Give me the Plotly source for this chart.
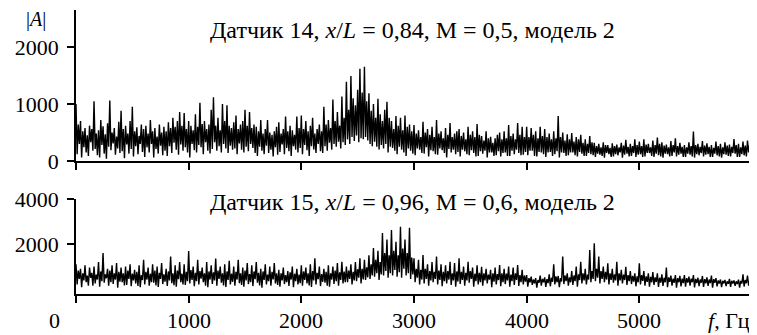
import plotly.graph_objects as go

# frequency bins, Hz
freq = list(range(0, 6000, 10))

# |A| for sensor 14 (x/L = 0.84, M = 0.5)
amp14 = [
    1000, 120, 640, 300, 700, 60, 520, 240, 580, 150, 450, 90, 620, 330, 560, 180, 1050, 210, 480, 100,
    540, 60, 720, 280, 610, 130, 470, 40, 660, 250, 1060, 190, 500, 310, 580, 110, 430, 220, 690, 140,
    880, 170, 560, 50, 620, 290, 480, 130, 700, 210, 950, 80, 520, 260, 590, 120, 440, 300, 640, 160,
    560, 70, 620, 240, 480, 150, 720, 300, 520, 60, 580, 210, 430, 130, 640, 270, 500, 100, 600, 180,
    520, 90, 680, 260, 580, 140, 760, 320, 600, 200, 700, 110, 860, 290, 620, 180, 840, 240, 560, 150,
    700, 60, 620, 300, 540, 190, 820, 150, 600, 280, 1020, 240, 650, 120, 700, 330, 560, 180, 640, 130,
    900, 210, 1120, 330, 620, 180, 760, 260, 540, 150, 1000, 300, 700, 220, 980, 140, 620, 270, 580, 200,
    680, 220, 800, 120, 560, 310, 640, 200, 700, 150, 900, 250, 620, 170, 860, 300, 580, 230, 640, 140,
    600, 90, 520, 250, 720, 180, 480, 120, 560, 270, 720, 140, 500, 200, 460, 80, 520, 240, 600, 110,
    680, 160, 480, 290, 560, 120, 780, 230, 520, 170, 620, 90, 540, 260, 460, 200, 780, 150, 580, 230,
    800, 120, 560, 280, 700, 190, 520, 90, 620, 260, 760, 200, 480, 140, 560, 300, 640, 170, 520, 140,
    950, 260, 640, 180, 720, 320, 580, 200, 1080, 300, 700, 250, 860, 340, 620, 220, 1130, 330, 760, 280,
    1390, 380, 900, 300, 1490, 420, 1100, 350, 980, 450, 1250, 330, 1620, 400, 1200, 380, 1655, 420, 1050, 360,
    1190, 300, 880, 260, 1000, 340, 760, 250, 1090, 200, 820, 280, 700, 220, 900, 300, 1040, 150, 760, 250,
    700, 230, 560, 180, 790, 120, 620, 250, 760, 200, 540, 150, 800, 90, 600, 220, 640, 180, 520, 130,
    630, 100, 480, 220, 540, 200, 420, 140, 690, 130, 500, 240, 560, 80, 460, 190, 600, 170, 420, 120,
    720, 110, 480, 220, 520, 190, 400, 140, 580, 60, 460, 210, 665, 150, 420, 200, 480, 120, 520, 160,
    560, 80, 440, 200, 500, 170, 380, 120, 600, 100, 460, 190, 520, 140, 420, 80, 650, 90, 460, 170,
    440, 130, 360, 180, 520, 60, 400, 150, 425, 150, 320, 90, 400, 100, 460, 170, 500, 80, 380, 140,
    520, 150, 400, 90, 630, 90, 440, 180, 480, 120, 380, 200, 665, 140, 460, 100, 600, 110, 420, 160,
    600, 100, 420, 180, 580, 180, 460, 90, 520, 80, 400, 160, 600, 150, 440, 120, 560, 70, 420, 150,
    480, 160, 380, 90, 520, 120, 400, 170, 790, 60, 420, 150, 500, 140, 360, 90, 470, 100, 380, 150,
    490, 150, 340, 100, 420, 80, 380, 160, 460, 130, 320, 90, 380, 90, 300, 140, 440, 120, 330, 100,
    320, 70, 260, 130, 300, 110, 240, 90, 330, 60, 280, 140, 280, 120, 230, 70, 310, 80, 260, 120,
    290, 100, 240, 150, 320, 60, 270, 110, 370, 130, 250, 80, 300, 90, 260, 140, 380, 70, 280, 110,
    340, 120, 260, 70, 380, 80, 290, 140, 300, 140, 240, 90, 360, 70, 280, 130, 410, 100, 300, 80,
    330, 60, 270, 130, 290, 120, 240, 80, 350, 90, 280, 150, 400, 80, 260, 110, 320, 130, 250, 70,
    280, 70, 240, 130, 330, 110, 260, 80, 515, 60, 280, 120, 300, 100, 250, 140, 350, 80, 270, 110,
    310, 120, 250, 70, 280, 70, 230, 130, 340, 100, 260, 80, 300, 60, 240, 120, 330, 110, 270, 90,
    290, 80, 250, 140, 385, 130, 280, 70, 300, 70, 240, 120, 340, 100, 270, 80, 360, 150, 290, 110,
]

# |A| for sensor 15 (x/L = 0.96, M = 0.6)
amp15 = [
    1100, 200, 820, 450, 900, 80, 700, 380, 1050, 300, 600, 150, 950, 500, 720, 150, 1000, 250, 640, 420,
    1200, 100, 780, 350, 1600, 280, 650, 480, 900, 150, 820, 300, 1050, 220, 700, 420, 1150, 60, 760, 330,
    950, 300, 700, 160, 1000, 180, 820, 450, 1100, 120, 680, 380, 850, 250, 760, 140, 1050, 80, 620, 400,
    1300, 200, 760, 420, 950, 150, 680, 300, 1100, 280, 820, 160, 1000, 90, 720, 450, 1150, 220, 650, 330,
    900, 140, 780, 380, 1440, 260, 700, 170, 1050, 100, 820, 440, 1200, 300, 680, 200, 1100, 180, 760, 350,
    1690, 250, 840, 400, 1000, 120, 720, 350, 1300, 200, 800, 460, 950, 300, 700, 150, 1200, 80, 780, 420,
    1050, 220, 740, 380, 1350, 150, 820, 450, 1000, 280, 700, 160, 1100, 90, 780, 400, 1250, 200, 680, 320,
    1000, 150, 760, 420, 1300, 260, 700, 180, 950, 100, 820, 380, 1150, 220, 660, 300, 1050, 130, 780, 440,
    1200, 280, 720, 160, 900, 60, 780, 400, 1100, 200, 640, 350, 1000, 150, 760, 430, 1150, 250, 700, 180,
    850, 100, 700, 380, 950, 220, 620, 300, 800, 140, 740, 420, 1000, 80, 680, 350, 900, 200, 640, 260,
    1050, 150, 780, 400, 950, 250, 700, 160, 1100, 90, 800, 380, 1360, 200, 720, 440, 1000, 130, 660, 320,
    900, 280, 760, 150, 1050, 100, 700, 420, 1000, 220, 820, 350, 1150, 150, 740, 400, 1210, 250, 780, 300,
    1000, 300, 820, 450, 1100, 200, 760, 380, 1200, 350, 880, 500, 1360, 250, 900, 420, 1300, 400, 960, 520,
    1500, 450, 1100, 600, 1820, 550, 1300, 700, 1700, 400, 1200, 650, 2490, 600, 1600, 800, 2200, 500, 1500, 700,
    2620, 600, 1700, 850, 2100, 550, 1500, 750, 2770, 500, 1800, 900, 2200, 600, 1600, 700, 2720, 450, 1400, 650,
    1360, 300, 900, 500, 1300, 200, 850, 420, 1510, 250, 900, 450, 1100, 150, 800, 380, 1200, 300, 760, 450,
    1440, 200, 820, 400, 1100, 120, 760, 350, 1050, 250, 800, 420, 1210, 180, 700, 380, 1150, 100, 780, 330,
    1360, 220, 760, 400, 1000, 150, 720, 380, 1210, 280, 800, 450, 950, 100, 680, 350, 1050, 200, 720, 300,
    990, 150, 700, 380, 900, 250, 640, 420, 850, 80, 700, 330, 950, 200, 660, 400, 1070, 120, 700, 300,
    900, 220, 680, 380, 1000, 100, 640, 350, 950, 180, 700, 400, 1070, 140, 620, 300, 850, 200, 600, 330,
    620, 100, 480, 300, 550, 180, 420, 250, 480, 60, 400, 280, 600, 150, 450, 300, 520, 90, 440, 260,
    650, 120, 500, 320, 1100, 200, 560, 300, 580, 80, 480, 330, 1440, 220, 600, 350, 700, 150, 520, 300,
    800, 180, 600, 350, 1000, 100, 650, 400, 1210, 250, 700, 380, 900, 200, 640, 420, 1730, 300, 800, 450,
    2030, 350, 900, 500, 1440, 250, 800, 450, 1000, 300, 760, 420, 1140, 200, 700, 400, 900, 280, 650, 380,
    1210, 150, 700, 380, 850, 250, 640, 400, 990, 180, 620, 350, 800, 220, 580, 330, 700, 120, 560, 300,
    1140, 200, 620, 360, 800, 150, 560, 320, 700, 100, 540, 300, 750, 180, 520, 310, 700, 90, 500, 280,
    650, 140, 500, 300, 950, 80, 520, 320, 600, 150, 460, 280, 620, 60, 480, 300, 580, 120, 460, 260,
    620, 100, 480, 280, 550, 150, 460, 300, 620, 70, 450, 260, 500, 130, 420, 280, 580, 90, 440, 250,
    520, 140, 420, 260, 600, 60, 440, 280, 480, 120, 380, 240, 420, 80, 360, 250, 400, 130, 340, 230,
    450, 90, 360, 250, 380, 140, 340, 220, 420, 60, 360, 240, 650, 110, 400, 260, 600, 150, 380, 240,
]

x_ticks = [0, 1000, 2000, 3000, 4000, 5000, 6000]
x_labels = ["1000", "2000", "3000", "4000", "5000"]
x_label_pos = [1000, 2000, 3000, 4000, 5000]
y1_ticks = [0, 1000, 2000]
y2_ticks = [2000, 4000]

title14 = "Датчик 14, <i>x</i>/<i>L</i> = 0,84, M = 0,5, модель 2"
title15 = "Датчик 15, <i>x</i>/<i>L</i> = 0,96, M = 0,6, модель 2"

FONT = "Liberation Serif, Times New Roman, serif"
FS_TICK = 22
FS_TITLE = 24

# page body has an 8px margin, so the figure is sized/offset to fit the window
W, H = 749, 327
ML, MR, MT, MB = 68, 5, 2, 41
PH = H - MT - MB  # plot height in px


def py(page_y):
    """paper y for a page pixel row"""
    return (H - MB - (page_y - 8)) / PH


def px(page_x):
    return (page_x - 8 - ML) / (W - ML - MR)


fig = go.Figure()
fig.add_trace(go.Scatter(x=freq, y=amp14, mode="lines",
                         line=dict(color="black", width=1.4),
                         xaxis="x", yaxis="y", showlegend=False))
fig.add_trace(go.Scatter(x=freq, y=amp15, mode="lines",
                         line=dict(color="black", width=1.4),
                         xaxis="x2", yaxis="y2", showlegend=False))

axis_common = dict(showline=True, linecolor="black", linewidth=1.5,
                   ticks="outside", ticklen=7, tickwidth=1.5, tickcolor="black",
                   showgrid=False, zeroline=False, automargin=False,
                   tickfont=dict(family=FONT, size=FS_TICK, color="black"))

annotations = [
    dict(text=title14, xref="x", yref="y", x=2990, y=2300,
         showarrow=False, xanchor="center", yanchor="middle",
         font=dict(size=FS_TITLE)),
    dict(text=title15, xref="x2", yref="y2", x=2990, y=3870,
         showarrow=False, xanchor="center", yanchor="middle",
         font=dict(size=FS_TITLE)),
    dict(text="|<i>A</i>|", xref="paper", yref="paper", x=px(36), y=py(20),
         showarrow=False, xanchor="center", yanchor="middle", font=dict(size=20)),
    dict(text="0", xref="paper", yref="paper", x=px(54), y=py(320),
         showarrow=False, xanchor="center", yanchor="middle", font=dict(size=FS_TICK)),
    dict(text="<i>f</i>, Гц", xref="paper", yref="paper", x=1.0, y=py(320),
         showarrow=False, xanchor="right", yanchor="middle", font=dict(size=FS_TICK)),
]
for pos, lab in zip(x_label_pos, x_labels):
    annotations.append(dict(text=lab, xref="x2", yref="paper", x=pos, y=py(320),
                            showarrow=False, xanchor="center", yanchor="middle",
                            font=dict(size=FS_TICK)))

fig.update_layout(
    width=W, height=H,
    margin=dict(l=ML, r=MR, t=MT, b=MB, autoexpand=False),
    paper_bgcolor="white", plot_bgcolor="white",
    font=dict(family=FONT, size=FS_TICK, color="black"),
    xaxis=dict(domain=[0, 1], anchor="y", range=[0, 6000],
               tickvals=x_ticks, showticklabels=False, **axis_common),
    yaxis=dict(domain=[py(161), py(10)], anchor="x", range=[0, 2650],
               tickvals=y1_ticks, ticklabelstandoff=4, **axis_common),
    xaxis2=dict(domain=[0, 1], anchor="y2", range=[0, 6000],
                tickvals=x_ticks, showticklabels=False, **axis_common),
    yaxis2=dict(domain=[py(294), py(199)], anchor="x2", range=[-222, 4000],
                tickvals=y2_ticks, ticklabelstandoff=4, **axis_common),
    annotations=annotations,
)

fig.write_html("out.html")
